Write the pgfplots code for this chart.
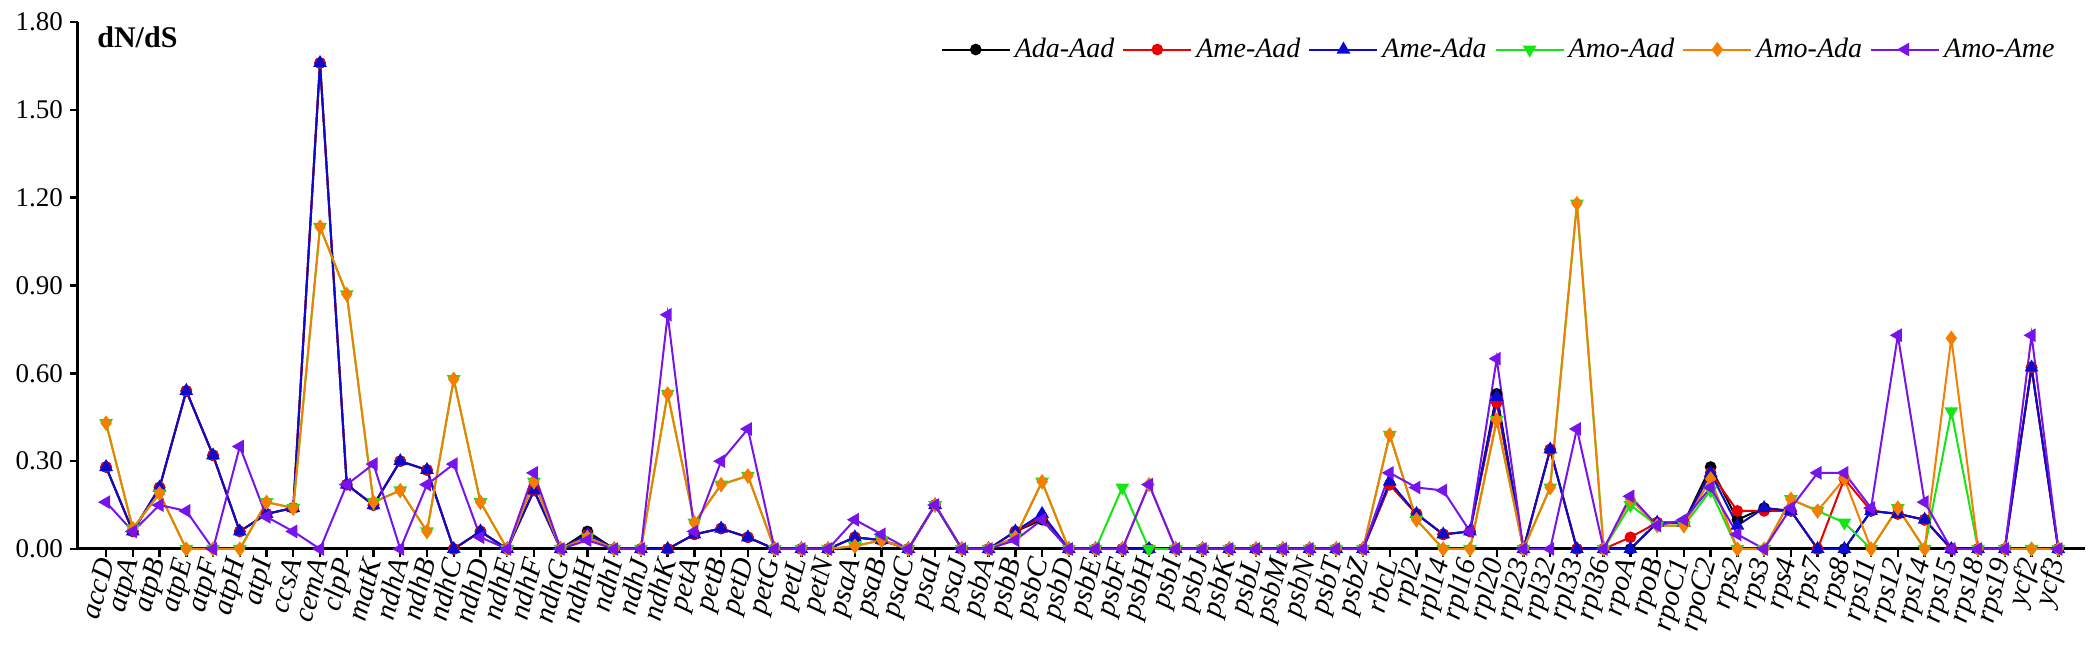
\documentclass[border=0pt]{standalone}
\usepackage{fontspec}
\setmainfont{Liberation Serif}
\usepackage{pgfplots}
\usepackage{pgfplotstable}
\pgfplotsset{compat=1.18}
\definecolor{cBlack}{RGB}{0,0,0}
\definecolor{cRed}{RGB}{235,0,0}
\definecolor{cBlue}{RGB}{10,10,210}
\definecolor{cGreen}{RGB}{20,230,20}
\definecolor{cOrange}{RGB}{245,125,0}
\definecolor{cPurple}{RGB}{120,20,235}
\pgfplotstableread{
idx AdaAad AmeAad AmeAda AmoAad AmoAda AmoAme
0 0.28 0.28 0.28 0.43 0.43 0.16
1 0.06 0.06 0.06 0.07 0.07 0.06
2 0.21 0.21 0.21 0.19 0.19 0.15
3 0.54 0.54 0.54 0.00 0.00 0.13
4 0.32 0.32 0.32 0.00 0.00 0.00
5 0.06 0.06 0.06 0.00 0.00 0.35
6 0.12 0.12 0.12 0.16 0.16 0.11
7 0.14 0.14 0.14 0.14 0.14 0.06
8 1.66 1.66 1.66 1.10 1.10 0.00
9 0.22 0.22 0.22 0.87 0.87 0.22
10 0.15 0.15 0.15 0.16 0.16 0.29
11 0.30 0.30 0.30 0.20 0.20 0.00
12 0.27 0.27 0.27 0.06 0.06 0.22
13 0.00 0.00 0.00 0.58 0.58 0.29
14 0.06 0.06 0.06 0.16 0.16 0.04
15 0 0 0 0 0 0
16 0.20 0.20 0.20 0.23 0.23 0.26
17 0 0 0 0 0 0
18 0.06 0.05 0.05 0.04 0.04 0.03
19 0 0 0 0 0 0
20 0 0 0 0 0 0
21 0.00 0.00 0.00 0.53 0.53 0.80
22 0.05 0.05 0.05 0.09 0.09 0.06
23 0.07 0.07 0.07 0.22 0.22 0.30
24 0.04 0.04 0.04 0.25 0.25 0.41
25 0 0 0 0 0 0
26 0 0 0 0 0 0
27 0 0 0 0 0 0
28 0.04 0.04 0.04 0.01 0.01 0.10
29 0.03 0.03 0.03 0.03 0.03 0.05
30 0 0 0 0 0 0
31 0.15 0.15 0.15 0.15 0.15 0.15
32 0 0 0 0 0 0
33 0 0 0 0 0 0
34 0.06 0.06 0.06 0.04 0.04 0.03
35 0.10 0.11 0.12 0.23 0.23 0.10
36 0 0 0 0 0 0
37 0 0 0 0 0 0
38 0 0 0 0.21 0 0
39 0 0 0 0 0.22 0.22
40 0 0 0 0 0 0
41 0 0 0 0 0 0
42 0 0 0 0 0 0
43 0 0 0 0 0 0
44 0 0 0 0 0 0
45 0 0 0 0 0 0
46 0 0 0 0 0 0
47 0 0 0 0 0 0
48 0.22 0.22 0.23 0.39 0.39 0.26
49 0.12 0.12 0.12 0.10 0.10 0.21
50 0.05 0.05 0.05 0.00 0.00 0.20
51 0.06 0.06 0.06 0.00 0.00 0.06
52 0.53 0.50 0.52 0.44 0.44 0.65
53 0 0 0 0 0 0
54 0.34 0.34 0.34 0.21 0.21 0.00
55 0.00 0.00 0.00 1.18 1.18 0.41
56 0 0 0 0 0 0
57 0.00 0.04 0.00 0.15 0.17 0.18
58 0.09 0.09 0.09 0.08 0.08 0.08
59 0.09 0.09 0.09 0.08 0.08 0.10
60 0.28 0.26 0.26 0.20 0.24 0.21
61 0.10 0.13 0.08 0.00 0.00 0.05
62 0.14 0.13 0.14 0.00 0.00 0.00
63 0.13 0.13 0.13 0.17 0.17 0.14
64 0.00 0.00 0.00 0.13 0.13 0.26
65 0.00 0.24 0.00 0.09 0.24 0.26
66 0.13 0.13 0.13 0.00 0.00 0.14
67 0.12 0.12 0.12 0.14 0.14 0.73
68 0.10 0.10 0.10 0.00 0.00 0.16
69 0.00 0.00 0.00 0.47 0.72 0.00
70 0 0 0 0 0 0
71 0 0 0 0 0 0
72 0.62 0.62 0.62 0.00 0.00 0.73
73 0 0 0 0 0 0
}\dndsdata
\begin{document}
\begin{tikzpicture}
\begin{axis}[
  scale only axis,
  width=1003.5pt, height=263.5pt,
  xmin=-1.05, xmax=74, ymin=0, ymax=1.80,
  axis x line*=bottom, axis y line*=left,
  axis line style={line width=1.5pt},
  every tick/.style={line width=1.2pt, black},
  tick align=outside, major tick length=4pt,
  ytick={0,0.3,...,1.81},
  yticklabel style={/pgf/number format/.cd, fixed, fixed zerofill, precision=2, assume math mode=true},
  tick label style={font=\fontsize{13.5}{15}\selectfont},
  xtick={0,...,73},
  xticklabels={accD,atpA,atpB,atpE,atpF,atpH,atpI,ccsA,cemA,clpP,matK,ndhA,ndhB,ndhC,ndhD,ndhE,ndhF,ndhG,ndhH,ndhI,ndhJ,ndhK,petA,petB,petD,petG,petL,petN,psaA,psaB,psaC,psaI,psaJ,psbA,psbB,psbC,psbD,psbE,psbF,psbH,psbI,psbJ,psbK,psbL,psbM,psbN,psbT,psbZ,rbcL,rpl2,rpl14,rpl16,rpl20,rpl23,rpl32,rpl33,rpl36,rpoA,rpoB,rpoC1,rpoC2,rps2,rps3,rps4,rps7,rps8,rps11,rps12,rps14,rps15,rps18,rps19,ycf2,ycf3},
  xticklabel style={font=\itshape\fontsize{14.5}{16}\selectfont, rotate=75, anchor=east, inner sep=1pt},
  legend columns=6,
  legend style={draw=none, fill=none, at={(rel axis cs:0.99,0.985)}, anchor=north east, font=\itshape\fontsize{14}{16}\selectfont, /tikz/every even column/.append style={column sep=2pt}},
  legend image code/.code={\draw[mark repeat=2,mark phase=2] plot coordinates {(0pt,0pt) (17pt,0pt) (34pt,0pt)};},
  every axis plot/.append style={line width=1pt, mark size=2.4pt},
  clip=false,
]
\addplot[color=cBlack, mark=*] table[x=idx, y=AdaAad] {\dndsdata};
\addlegendentry{Ada-Aad}
\addplot[color=cRed, mark=*] table[x=idx, y=AmeAad] {\dndsdata};
\addlegendentry{Ame-Aad}
\addplot[color=cBlue, mark=triangle*, mark size=3pt] table[x=idx, y=AmeAda] {\dndsdata};
\addlegendentry{Ame-Ada}
\addplot[color=cGreen, mark=triangle*, mark size=3pt, mark options={rotate=180}] table[x=idx, y=AmoAad] {\dndsdata};
\addlegendentry{Amo-Aad}
\addplot[color=cOrange, mark=diamond*, mark size=3pt] table[x=idx, y=AmoAda] {\dndsdata};
\addlegendentry{Amo-Ada}
\addplot[color=cPurple, mark=triangle*, mark size=3pt, mark options={rotate=90}] table[x=idx, y=AmoAme] {\dndsdata};
\addlegendentry{Amo-Ame}
\node[anchor=west, font=\bfseries\fontsize{15}{17}\selectfont, inner sep=0pt] at ([shift={(9.5pt,-7.5pt)}]axis description cs:0,1) {dN/dS};
\end{axis}
\pgfresetboundingbox
\path (-39pt,-51.5pt) rectangle (1008.5pt,274.5pt);
\end{tikzpicture}
\end{document}
